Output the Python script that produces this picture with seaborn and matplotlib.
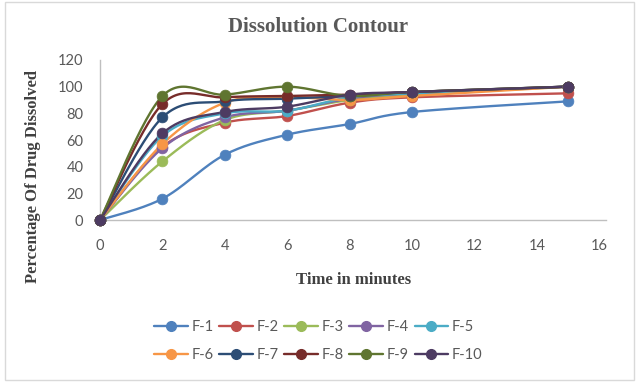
import numpy as np
import pandas as pd
import matplotlib
matplotlib.use("Agg")
import matplotlib.pyplot as plt
from matplotlib.lines import Line2D
from matplotlib.patches import Rectangle
import seaborn as sns

# Data
time_min = [0, 2, 4, 6, 8, 10, 15]
f1 = [0, 16, 49, 64, 72, 81, 89]
f2 = [0, 55, 73, 78, 88, 92, 95]
f3 = [0, 44, 75, 82, 90, 94, 100]
f4 = [0, 54, 77, 82, 91, 95, 100]
f5 = [0, 63, 80, 82, 92, 95, 100]
f6 = [0, 57, 88, 92, 90, 93, 100]
f7 = [0, 77, 89, 91, 93, 96, 100]
f8 = [0, 87, 92, 93, 94, 96, 100]
f9 = [0, 93, 94, 100, 93, 96, 100]
f10 = [0, 65, 81, 85, 94, 96, 100]

names = ["F-1", "F-2", "F-3", "F-4", "F-5", "F-6", "F-7", "F-8", "F-9", "F-10"]
series = [f1, f2, f3, f4, f5, f6, f7, f8, f9, f10]
colors = ["#4F81BD", "#C0504D", "#9BBB59", "#8064A2", "#4BACC6",
          "#F79646", "#2C4D75", "#772C2A", "#5F7530", "#4D3B62"]

rows = []
for n, vals in zip(names, series):
    for t, v in zip(time_min, vals):
        rows.append({"time": t, "pct": v, "formulation": n})
df = pd.DataFrame(rows)


def smooth(xs, ys, steps=30):
    # Excel-like smoothed line (Catmull-Rom through the points)
    p = np.column_stack([xs, ys]).astype(float)
    p = np.vstack([p[0], p, p[-1]])
    out = []
    t = np.linspace(0, 1, steps)[:, None]
    for i in range(1, len(p) - 2):
        p0, p1, p2, p3 = p[i - 1], p[i], p[i + 1], p[i + 2]
        c1 = p1 + (p2 - p0) / 6.0
        c2 = p2 - (p3 - p1) / 6.0
        seg = ((1 - t) ** 3) * p1 + 3 * ((1 - t) ** 2) * t * c1 + 3 * (1 - t) * t ** 2 * c2 + t ** 3 * p2
        out.append(seg)
    out = np.vstack(out)
    return out[:, 0], out[:, 1]


sns.set_theme(style="white")
plt.rcParams["font.family"] = ["Lato", "DejaVu Sans"]

fig = plt.figure(figsize=(6.39, 3.82), dpi=100)
ax = fig.add_axes([0.1565, 0.424, 0.7915, 0.419])

for n, c in zip(names, colors):
    sub = df[df["formulation"] == n]
    sx, sy = smooth(sub["time"].values, sub["pct"].values)
    ax.plot(sx, sy, color=c, lw=1.7, zorder=2)
    sns.scatterplot(x="time", y="pct", data=sub, color=c, s=60,
                    edgecolor=c, linewidth=0.5, ax=ax, zorder=3, legend=False)

ax.set_xlim(0, 16.2)
ax.set_ylim(0, 120)
ax.set_xticks(range(0, 17, 2))
ax.set_yticks(range(0, 121, 20))
ax.set_xlabel("")
ax.set_ylabel("")
ax.tick_params(axis="both", labelsize=10.5, colors="#595959", length=0)
ax.tick_params(axis="x", pad=14)
ax.tick_params(axis="y", pad=12)
for s in ["top", "right"]:
    ax.spines[s].set_visible(False)
ax.spines["left"].set_color("#BFBFBF")
ax.spines["bottom"].set_color("#BFBFBF")
ax.spines["left"].set_linewidth(1)
ax.spines["bottom"].set_linewidth(1)
for coll in ax.collections:
    coll.set_clip_on(False)

serif = ["Liberation Serif", "DejaVu Serif"]
fig.text(0.497, 0.929, "Dissolution Contour", ha="center", va="center",
         fontsize=15, fontweight="bold", family=serif, color="#595959")
fig.text(0.052, 0.537, "Percentage Of Drug Dissolved", ha="center", va="center",
         rotation=90, fontsize=12, fontweight="bold", family=serif, color="#404040")
fig.text(0.553, 0.267, "Time in minutes", ha="center", va="center",
         fontsize=12, fontweight="bold", family=serif, color="#404040")

handles = [Line2D([0], [0], color=c, lw=1.7, marker="o", markersize=7,
                  markerfacecolor=c, markeredgecolor=c) for c in colors]
# legend fills column by column, so reorder to get row-wise entries
order = [0, 5, 1, 6, 2, 7, 3, 8, 4, 9]
fig.legend([handles[i] for i in order], [names[i] for i in order],
           loc="center", bbox_to_anchor=(0.498, 0.107), ncol=5,
           frameon=False, fontsize=10.5, handlelength=2.3, columnspacing=0.4,
           handletextpad=0.25, labelcolor="#595959", labelspacing=0.95)

fig.patches.append(Rectangle((0.008, 0.005), 0.984, 0.99, transform=fig.transFigure,
                             fill=False, edgecolor="#D9D9D9", lw=1))

fig.savefig("out.png", dpi=100)
